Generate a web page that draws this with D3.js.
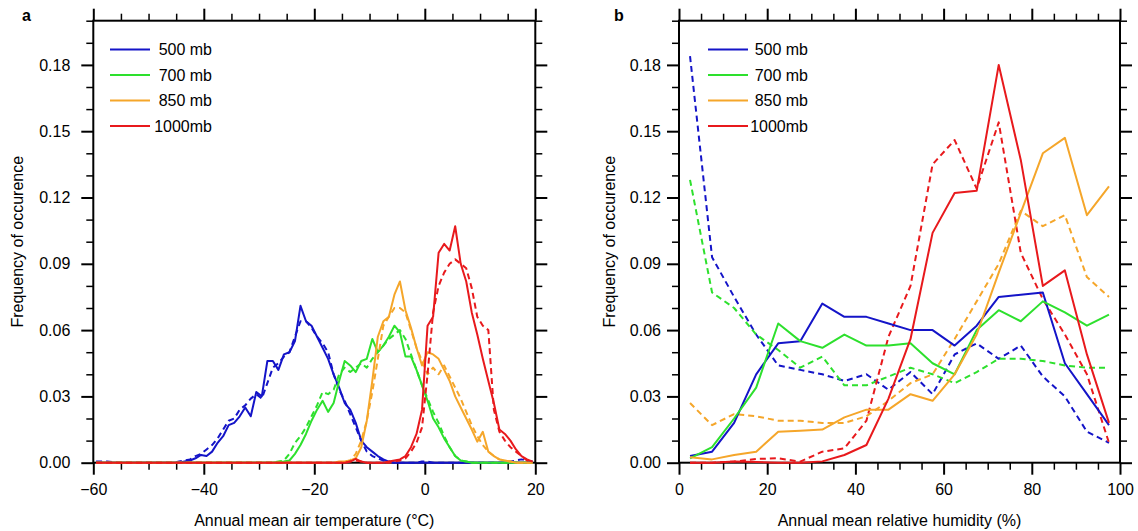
<!DOCTYPE html>
<html><head><meta charset="utf-8">
<script src="https://cdn.jsdelivr.net/npm/d3@7"></script>
<style>
body{margin:0;background:#fff}
svg{display:block}
text{font-family:"Liberation Sans",Arial,Helvetica,sans-serif;fill:#000}
</style>
</head><body>
<svg id="chart" width="1138" height="531"></svg>
<script>
// ---------- data ----------
const levels = ["500 mb", "700 mb", "850 mb", "1000mb"];
const levelColors = ["#1414c8", "#2de02d", "#f5a62a", "#e8191c"];

const yTicks = [0, 0.03, 0.06, 0.09, 0.12, 0.15, 0.18];
const tempTicks = [-60, -40, -20, 0, 20];
const rhTicks = [0, 20, 40, 60, 80, 100];

// panel a: bin centres (°C)
const tempBins = [
 -59.5,-58.5,-57.5,-56.5,-55.5,-54.5,-53.5,-52.5,-51.5,-50.5,
 -49.5,-48.5,-47.5,-46.5,-45.5,-44.5,-43.5,-42.5,-41.5,-40.5,
 -39.5,-38.5,-37.5,-36.5,-35.5,-34.5,-33.5,-32.5,-31.5,-30.5,
 -29.5,-28.5,-27.5,-26.5,-25.5,-24.5,-23.5,-22.5,-21.5,-20.5,
 -19.5,-18.5,-17.5,-16.5,-15.5,-14.5,-13.5,-12.5,-11.5,-10.5,
 -9.5,-8.5,-7.5,-6.5,-5.5,-4.5,-3.5,-2.5,-1.5,-0.5,
 0.5,1.5,2.5,3.5,4.5,5.5,6.5,7.5,8.5,9.5,
 10.5,11.5,12.5,13.5,14.5,15.5,16.5,17.5,18.5,19.5];

const temp500Solid = [
 0,0,0,0,0,0,0,0,0,0,
 0,0,0,0,0,0,0.0005,0.001,0.002,0.0035,
 0.003,0.005,0.009,0.012,0.017,0.018,0.021,0.025,0.021,0.032,
 0.030,0.046,0.046,0.042,0.049,0.050,0.055,0.071,0.064,0.062,
 0.057,0.052,0.047,0.040,0.034,0.027,0.024,0.018,0.010,0.007,
 0.005,0.003,0.0015,0.0005,0,0,0,0,0,0,
 0,0,0,0,0,0,0,0,0,0,
 0,0,0,0,0,0,0,0,0,0];
const temp500Dash = [
 0.0005,0.0005,0.0005,0.0003,0,0,0,0,0,0,
 0,0,0,0,0,0.0005,0.001,0.0015,0.003,0.004,
 0.006,0.008,0.011,0.015,0.019,0.020,0.024,0.026,0.029,0.031,
 0.029,0.036,0.043,0.045,0.048,0.050,0.057,0.064,0.064,0.061,
 0.057,0.054,0.050,0.040,0.033,0.028,0.022,0.016,0.010,0.005,
 0.003,0.002,0.001,0.0005,0,0,0,0,0,0.0005,
 0.0005,0,0,0,0,0,0,0,0,0,
 0,0,0,0,0,0.0005,0.001,0.0015,0.001,0.0005];
const temp700Solid = [
 0,0,0,0,0,0,0,0,0,0,
 0,0,0,0,0,0,0,0,0,0,
 0,0,0,0,0,0,0,0,0,0,
 0,0,0,0.0003,0.0005,0.001,0.004,0.008,0.013,0.019,
 0.024,0.028,0.023,0.027,0.037,0.046,0.044,0.041,0.046,0.047,
 0.056,0.050,0.053,0.057,0.062,0.059,0.048,0.048,0.042,0.035,
 0.028,0.020,0.016,0.011,0.007,0.003,0.001,0.0005,0,0,
 0,0,0,0,0,0,0,0,0,0];
const temp700Dash = [
 0,0,0,0,0,0,0,0,0,0,
 0,0,0,0,0,0,0,0,0,0,
 0,0,0,0,0,0,0,0,0,0,
 0,0,0,0.0005,0.001,0.004,0.009,0.012,0.016,0.021,
 0.026,0.032,0.031,0.033,0.040,0.043,0.041,0.043,0.045,0.043,
 0.047,0.050,0.053,0.056,0.058,0.060,0.056,0.049,0.042,0.035,
 0.029,0.023,0.018,0.012,0.007,0.003,0.001,0.0005,0,0,
 0,0,0,0,0,0,0,0,0,0];
const temp850Solid = [
 0,0,0,0,0,0,0,0,0,0,
 0,0,0,0,0,0,0,0,0,0,
 0,0,0,0,0,0,0,0,0,0,
 0,0,0,0,0,0,0,0,0,0,
 0,0,0,0,0.0005,0.0005,0.001,0.002,0.007,0.019,
 0.037,0.057,0.064,0.066,0.076,0.082,0.069,0.061,0.052,0.044,
 0.050,0.049,0.047,0.042,0.037,0.030,0.025,0.020,0.015,0.0095,
 0.014,0.005,0.003,0.0015,0.001,0.0005,0,0,0,0];
const temp850Dash = [
 0,0,0,0,0,0,0,0,0,0,
 0,0,0,0,0,0,0,0,0,0,
 0,0,0,0,0,0,0,0,0,0,
 0,0,0,0,0,0,0,0,0,0,
 0,0,0,0,0,0.0005,0.001,0.004,0.010,0.019,
 0.032,0.047,0.062,0.066,0.070,0.070,0.068,0.060,0.052,0.046,
 0.040,0.043,0.040,0.044,0.039,0.034,0.029,0.023,0.017,0.012,
 0.008,0.005,0.003,0.0015,0.001,0.0005,0,0,0,0];
const temp1000Solid = [
 0,0,0,0,0,0,0,0,0,0,
 0,0,0,0,0,0,0,0,0,0,
 0,0,0,0,0,0,0,0,0,0,
 0,0,0,0,0,0,0,0,0,0,
 0,0,0,0,0,0,0.0005,0.0017,0.0005,0,
 0,0,0,0.0005,0.001,0.0015,0.003,0.007,0.013,0.024,
 0.062,0.066,0.095,0.099,0.096,0.107,0.090,0.082,0.068,0.058,
 0.047,0.037,0.027,0.015,0.013,0.010,0.006,0.003,0.0015,0.0005];
const temp1000Dash = [
 0,0,0,0,0,0,0,0,0,0,
 0,0,0,0,0,0,0,0,0,0,
 0,0,0,0,0,0,0,0,0,0,
 0,0,0,0,0,0,0,0,0,0,
 0,0,0,0,0,0,0.0005,0.001,0.0005,0,
 0,0,0,0,0.0005,0.001,0.002,0.005,0.009,0.016,
 0.040,0.068,0.080,0.086,0.090,0.092,0.090,0.088,0.079,0.066,
 0.062,0.060,0.024,0.014,0.010,0.007,0.005,0.003,0.001,0.0005];

// panel b: bin centres (%)
const rhBins = [2.5,7.5,12.5,17.5,22.5,27.5,32.5,37.5,42.5,47.5,52.5,57.5,62.5,67.5,72.5,77.5,82.5,87.5,92.5,97.5];
const rh500Solid = [0.003,0.005,0.018,0.040,0.054,0.055,0.072,0.066,0.066,0.063,0.060,0.060,0.053,0.062,0.075,0.076,0.077,0.045,0.031,0.017];
const rh500Dash  = [0.184,0.093,0.075,0.058,0.044,0.042,0.040,0.037,0.040,0.033,0.041,0.031,0.049,0.054,0.047,0.053,0.039,0.030,0.014,0.009];
const rh700Solid = [0.002,0.007,0.020,0.034,0.063,0.055,0.052,0.058,0.053,0.053,0.054,0.045,0.040,0.060,0.069,0.064,0.073,0.068,0.062,0.067];
const rh700Dash  = [0.128,0.077,0.070,0.058,0.051,0.043,0.048,0.035,0.035,0.039,0.043,0.040,0.036,0.041,0.047,0.047,0.046,0.044,0.043,0.043];
const rh850Solid = [0.0025,0.0015,0.0035,0.005,0.014,0.0145,0.015,0.0205,0.024,0.024,0.031,0.028,0.040,0.058,0.086,0.113,0.140,0.147,0.112,0.125];
const rh850Dash  = [0.027,0.017,0.022,0.021,0.019,0.019,0.018,0.018,0.021,0.028,0.036,0.040,0.056,0.073,0.090,0.114,0.107,0.112,0.084,0.075];
const rh1000Solid = [0,0,0.0005,0.0003,0,0,0.0006,0.0035,0.008,0.029,0.056,0.104,0.122,0.123,0.180,0.137,0.080,0.087,0.049,0.018];
const rh1000Dash  = [0,0,0.0005,0.0017,0.002,0.0005,0.005,0.0065,0.019,0.057,0.080,0.135,0.146,0.124,0.154,0.095,0.074,0.058,0.040,0.009];

// ---------- drawing ----------
const svg = d3.select("#chart");
const TOP = 20.7, BOTTOM = 462.7;

function drawPanel(cfg) {
  const x = d3.scaleLinear().domain(cfg.xDomain).range([cfg.left, cfg.right]);
  const y = d3.scaleLinear().domain([0, 0.2]).range([BOTTOM, TOP]);
  const g = svg.append("g");

  const xMinor = d3.range(cfg.xDomain[0], cfg.xDomain[1] + 0.001, 5).filter(v => !cfg.xTicks.includes(v));
  const yMinor = d3.range(0, 0.2001, 0.01).filter(v => !yTicks.some(t => Math.abs(t - v) < 1e-6));

  function styleAxis(sel, w) {
    sel.select(".domain").remove();
    sel.selectAll(".tick line").attr("stroke", "#000").attr("stroke-width", w);
    sel.selectAll("text").style("font-size", "16px").attr("fill", "#000");
  }
  // bottom
  g.append("g").attr("transform", `translate(0,${BOTTOM})`)
    .call(d3.axisBottom(x).tickValues(xMinor).tickSize(7).tickFormat(""))
    .call(s => styleAxis(s, 1.5));
  g.append("g").attr("transform", `translate(0,${BOTTOM})`)
    .call(d3.axisBottom(x).tickValues(cfg.xTicks).tickSize(12).tickPadding(9).tickFormat(d3.format("d")))
    .call(s => styleAxis(s, 2));
  // top
  g.append("g").attr("transform", `translate(0,${TOP})`)
    .call(d3.axisTop(x).tickValues(xMinor).tickSize(7).tickFormat(""))
    .call(s => styleAxis(s, 1.5));
  g.append("g").attr("transform", `translate(0,${TOP})`)
    .call(d3.axisTop(x).tickValues(cfg.xTicks).tickSize(12).tickFormat(""))
    .call(s => styleAxis(s, 2));
  // left
  g.append("g").attr("transform", `translate(${cfg.left},0)`)
    .call(d3.axisLeft(y).tickValues(yMinor).tickSize(7).tickFormat(""))
    .call(s => styleAxis(s, 1.5));
  g.append("g").attr("transform", `translate(${cfg.left},0)`)
    .call(d3.axisLeft(y).tickValues(yTicks).tickSize(12).tickPadding(cfg.yPad).tickFormat(d3.format(".2f")))
    .call(s => styleAxis(s, 2));
  // right
  g.append("g").attr("transform", `translate(${cfg.right},0)`)
    .call(d3.axisRight(y).tickValues(yMinor).tickSize(7).tickFormat(""))
    .call(s => styleAxis(s, 1.5));
  g.append("g").attr("transform", `translate(${cfg.right},0)`)
    .call(d3.axisRight(y).tickValues(yTicks).tickSize(12).tickFormat(""))
    .call(s => styleAxis(s, 2));

  // frame
  g.append("rect").attr("x", cfg.left).attr("y", TOP)
    .attr("width", cfg.right - cfg.left).attr("height", BOTTOM - TOP)
    .attr("fill", "none").attr("stroke", "#000").attr("stroke-width", 2);

  // series
  const line = d3.line().x(d => x(d[0])).y(d => y(d[1]));
  cfg.series.forEach((s, i) => {
    const pts = cfg.bins.map((b, k) => [b, s.values[k]]);
    g.append("path").datum(pts).attr("d", line)
      .attr("fill", "none").attr("stroke", levelColors[s.level])
      .attr("stroke-width", 2).attr("stroke-linejoin", "round")
      .attr("stroke-dasharray", s.dash ? "6,4" : null);
  });

  // legend
  levels.forEach((name, i) => {
    const ly = cfg.legY0 + i * 25.5;
    g.append("line").attr("x1", cfg.legX1).attr("x2", cfg.legX2)
      .attr("y1", ly).attr("y2", ly)
      .attr("stroke", levelColors[i]).attr("stroke-width", 2);
    g.append("text").attr("x", cfg.legTextEnd).attr("y", ly)
      .attr("text-anchor", "end").attr("dy", "0.35em")
      .style("font-size", "16px").text(name);
  });

  // titles
  g.append("text").attr("x", (cfg.left + cfg.right) / 2).attr("y", 526)
    .attr("text-anchor", "middle").style("font-size", "16px").text(cfg.xTitle);
  g.append("text").attr("transform", `translate(${cfg.yTitleX},${(TOP + BOTTOM) / 2}) rotate(-90)`)
    .attr("text-anchor", "middle").attr("dy", "0.35em")
    .style("font-size", "16px").text("Frequency of occurence");
  g.append("text").attr("x", cfg.letterX).attr("y", 20.7)
    .style("font-size", "16px").style("font-weight", "bold").text(cfg.letter);
}

drawPanel({
  left: 93.3, right: 535.3, xDomain: [-60, 20], xTicks: tempTicks, yPad: 11,
  bins: tempBins,
  series: [
    {level: 0, dash: true, values: temp500Dash},
    {level: 0, dash: false, values: temp500Solid},
    {level: 1, dash: true, values: temp700Dash},
    {level: 1, dash: false, values: temp700Solid},
    {level: 2, dash: true, values: temp850Dash},
    {level: 2, dash: false, values: temp850Solid},
    {level: 3, dash: true, values: temp1000Dash},
    {level: 3, dash: false, values: temp1000Solid}
  ],
  legX1: 110, legX2: 150, legTextEnd: 212, legY0: 49.5,
  xTitle: "Annual mean air temperature (°C)", yTitleX: 17,
  letter: "a", letterX: 22
});

drawPanel({
  left: 679, right: 1120, xDomain: [0, 100], xTicks: rhTicks, yPad: 6,
  bins: rhBins,
  series: [
    {level: 0, dash: true, values: rh500Dash},
    {level: 1, dash: true, values: rh700Dash},
    {level: 2, dash: true, values: rh850Dash},
    {level: 3, dash: true, values: rh1000Dash},
    {level: 0, dash: false, values: rh500Solid},
    {level: 1, dash: false, values: rh700Solid},
    {level: 2, dash: false, values: rh850Solid},
    {level: 3, dash: false, values: rh1000Solid}
  ],
  legX1: 708, legX2: 748, legTextEnd: 808, legY0: 49.5,
  xTitle: "Annual mean relative humidity (%)", yTitleX: 609,
  letter: "b", letterX: 614
});
</script>
</body></html>
